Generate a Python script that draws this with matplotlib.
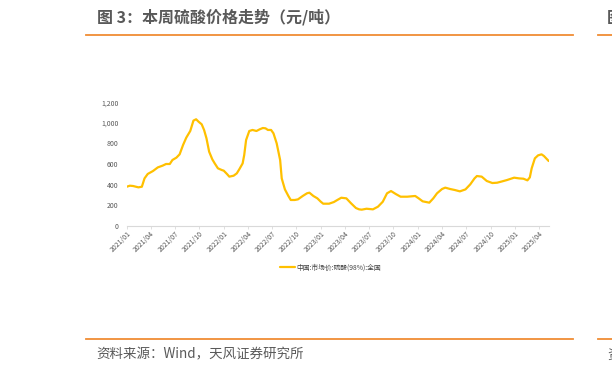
import numpy as np
import pandas as pd
import matplotlib
matplotlib.use("Agg")
import matplotlib.pyplot as plt
import matplotlib.dates as mdates
from matplotlib.ticker import FuncFormatter, MultipleLocator

plt.rcParams['font.family'] = ['Noto Sans CJK SC', 'DejaVu Sans']

# weekly-ish readings of the China market price of sulphuric acid (98%), yuan/t
dates = ["2021-01-01", "2021-01-13", "2021-01-25", "2021-02-14", "2021-02-27", "2021-03-09",
         "2021-03-21", "2021-04-10", "2021-04-28", "2021-05-16", "2021-05-29", "2021-06-12",
         "2021-06-22", "2021-07-07", "2021-07-19", "2021-08-01", "2021-08-13", "2021-08-28",
         "2021-09-09", "2021-09-19", "2021-09-28", "2021-10-10", "2021-10-19", "2021-10-28",
         "2021-11-07", "2021-11-19", "2021-11-28", "2021-12-10", "2021-12-25", "2022-01-01",
         "2022-01-13", "2022-01-22", "2022-02-07", "2022-02-19", "2022-03-01", "2022-03-13",
         "2022-03-19", "2022-03-26", "2022-04-07", "2022-04-19", "2022-05-04", "2022-05-16",
         "2022-05-28", "2022-06-07", "2022-06-16", "2022-06-28", "2022-07-07", "2022-07-19",
         "2022-08-01", "2022-08-07", "2022-08-19", "2022-09-01", "2022-09-10", "2022-09-25",
         "2022-10-07", "2022-10-25", "2022-11-10", "2022-11-19", "2022-12-04", "2022-12-19",
         "2023-01-01", "2023-01-10", "2023-02-01", "2023-02-19", "2023-03-04", "2023-03-19",
         "2023-04-07", "2023-04-25", "2023-05-13", "2023-05-25", "2023-06-04", "2023-06-22",
         "2023-07-16", "2023-08-04", "2023-08-22", "2023-09-07", "2023-09-22", "2023-10-10",
         "2023-10-28", "2023-11-22", "2023-12-22", "2024-01-04", "2024-01-19", "2024-02-13",
         "2024-02-28", "2024-03-13", "2024-04-01", "2024-04-13", "2024-05-01", "2024-05-19",
         "2024-06-07", "2024-06-28", "2024-07-16", "2024-08-01", "2024-08-10", "2024-08-28",
         "2024-09-16", "2024-10-07", "2024-10-25", "2024-11-13", "2024-12-01", "2024-12-28",
         "2025-01-16", "2025-02-01", "2025-02-16", "2025-02-25", "2025-03-04", "2025-03-16",
         "2025-03-28", "2025-04-10", "2025-04-19", "2025-05-07"]
prices = [379, 389, 386, 373, 379, 460,
          503, 532, 567, 584, 600, 600,
          639, 662, 694, 785, 856, 921,
          1022, 1035, 1012, 986, 931, 850,
          720, 645, 606, 558, 541, 535,
          503, 477, 486, 509, 551, 606,
          688, 833, 921, 931, 921, 937,
          950, 947, 931, 931, 898, 801,
          639, 460, 353, 289, 250, 250,
          256, 289, 315, 321, 289, 266,
          233, 214, 214, 230, 250, 272,
          266, 217, 172, 159, 156, 165,
          159, 185, 233, 315, 337, 308,
          282, 282, 289, 266, 237, 224,
          266, 315, 357, 370, 357, 347,
          334, 353, 402, 460, 483, 477,
          435, 415, 418, 431, 444, 467,
          460, 457, 441, 470, 558, 655,
          684, 694, 678, 629]
series_name = "中国:市场价:硫酸(98%):全国"
title = "图 3：本周硫酸价格走势（元/吨）"
source = "资料来源：Wind，天风证券研究所"

W, H = 612.0, 373.0
x = pd.to_datetime(dates)

fig = plt.figure(figsize=(6.12, 3.73), dpi=100)
ax = fig.add_axes([126.7 / W, 1 - 225.7 / H, 422.0 / W, 123.4 / H])

line, = ax.plot(x, prices, color="#FFC000", lw=1.6, solid_capstyle="round")

ax.set_xlim(x[0], x[-1])
ax.set_ylim(0, 1200)
ax.yaxis.set_major_locator(MultipleLocator(200))
ax.yaxis.set_major_formatter(FuncFormatter(lambda v, p: "{:,.0f}".format(v)))
ax.xaxis.set_major_locator(mdates.MonthLocator(bymonth=[1, 4, 7, 10]))
ax.xaxis.set_major_formatter(mdates.DateFormatter("%Y/%m"))

for s in ["top", "right", "left"]:
    ax.spines[s].set_visible(False)
ax.spines["bottom"].set_color("#D9D9D9")
ax.spines["bottom"].set_linewidth(0.8)
ax.tick_params(axis="y", length=0, labelsize=5, colors="#595959", pad=6)
ax.tick_params(axis="x", length=2, width=0.6, color="#D9D9D9", labelsize=5, labelcolor="#595959", pad=1)
for lab in ax.get_xticklabels():
    lab.set_rotation(45)
    lab.set_ha("right")
    lab.set_rotation_mode("anchor")

ax.legend([line], [series_name], loc="center", bbox_to_anchor=(0.483, -0.337),
          frameon=False, fontsize=4.9, handlelength=2.1, handletextpad=0.25,
          borderpad=0, borderaxespad=0, labelcolor="#404040")

# header / footer of the report page
orange = "#F08C34"
fig.text(97 / W, 1 - 17.5 / H, title, fontsize=11.5, fontweight="bold", color="#595959",
         va="center", ha="left")
fig.text(607 / W, 1 - 17.5 / H, "图 4", fontsize=11.5, fontweight="bold", color="#595959",
         va="center", ha="left")
fig.add_artist(plt.Line2D([86 / W, 573 / W], [1 - 35 / H, 1 - 35 / H], color=orange, lw=1.3))
fig.add_artist(plt.Line2D([598 / W, 1.0], [1 - 35 / H, 1 - 35 / H], color=orange, lw=1.3))
fig.add_artist(plt.Line2D([86 / W, 573 / W], [1 - 338.5 / H, 1 - 338.5 / H], color=orange, lw=1.3))
fig.add_artist(plt.Line2D([598 / W, 1.0], [1 - 338.5 / H, 1 - 338.5 / H], color=orange, lw=1.3))
fig.text(96 / W, 1 - 354.5 / H, source, fontsize=9.7, color="#595959", va="center", ha="left")
fig.text(607 / W, 1 - 354.5 / H, "资料来源", fontsize=9.7, color="#595959", va="center", ha="left")

fig.savefig("out.png", dpi=100)
